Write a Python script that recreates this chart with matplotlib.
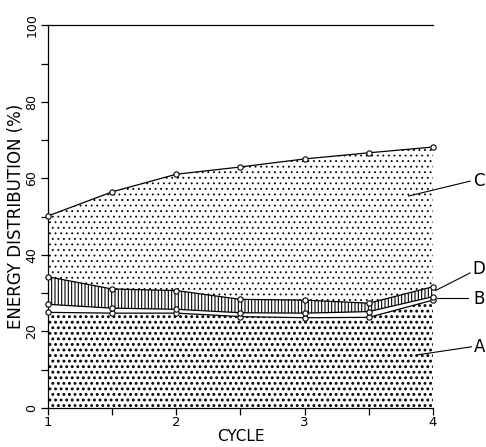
import matplotlib
matplotlib.use('Agg')
import matplotlib.pyplot as plt
import numpy as np

# cumulative tops of each layer (%)
cycle = [1, 1.5, 2, 2.5, 3, 3.5, 4]
top_a = [25.0, 24.8, 24.8, 23.9, 23.6, 23.7, 28.2]
top_b = [27.1, 26.1, 25.8, 24.9, 24.8, 25.2, 29.1]
top_d = [34.3, 31.1, 30.7, 28.4, 28.2, 27.4, 31.7]
top_c = [50.2, 56.5, 61.1, 63.0, 65.1, 66.7, 68.2]

labels = ['C', 'D', 'B', 'A']
label_line_start = [(3.81, 55.4), (4.02, 30.7), (4.03, 28.8), (3.88, 13.9)]
label_line_end = [(4.29, 59.3), (4.29, 35.3), (4.27, 28.8), (4.30, 16.0)]
label_pos = [(4.36, 59.3), (4.36, 36.4), (4.36, 28.4), (4.36, 16.0)]

fig = plt.figure(figsize=(4.86, 4.47), dpi=100)
ax = fig.add_axes([0.0988, 0.0872, 0.792, 0.856])

def layer(lo, hi, hatch, hlw):
    coll = ax.fill_between(cycle, lo, hi, facecolor='white', edgecolor='black',
                           linewidth=0, hatch=hatch, zorder=1)
    if hasattr(coll, 'set_hatch_linewidth'):
        coll.set_hatch_linewidth(hlw)
    return coll

plt.rcParams['hatch.linewidth'] = 1.3
layer(0, top_a, '...', 1.3)
plt.rcParams['hatch.linewidth'] = 0.8
layer(top_b, top_d, '|||||', 0.8)
plt.rcParams['hatch.linewidth'] = 0.6
layer(top_d, top_c, '...', 0.6)

for ys in (top_a, top_b, top_d, top_c):
    ax.plot(cycle, ys, color='black', linewidth=0.9, marker='o', markersize=3.8,
            markerfacecolor='white', markeredgewidth=0.8, zorder=3, clip_on=False)

for lab, p0, p1, pt in zip(labels, label_line_start, label_line_end, label_pos):
    ax.plot([p0[0], p1[0]], [p0[1], p1[1]], color='black', linewidth=0.8,
            clip_on=False, zorder=4)
    ax.text(pt[0], pt[1], lab, fontsize=12, ha='center', va='center')

ax.set_xlim(1, 4)
ax.set_ylim(0, 100)
ax.set_xticks([1, 2, 3, 4])
ax.set_xticks([1.5, 2.5, 3.5], minor=True)
ax.set_yticks([0, 20, 40, 60, 80, 100])
ax.set_yticks([10, 30, 50, 70, 90], minor=True)
ax.tick_params(axis='both', which='both', direction='out', length=5, width=0.9)
ax.tick_params(axis='x', labelsize=9.5, pad=1)
ax.tick_params(axis='y', labelsize=9, labelrotation=90, pad=2)
for t in ax.get_yticklabels():
    t.set_va('center')

ax.spines['right'].set_visible(False)
for s in ('left', 'bottom', 'top'):
    ax.spines[s].set_linewidth(0.9)

ax.set_xlabel('CYCLE', fontsize=11, labelpad=0)
ax.set_ylabel('ENERGY DISTRIBUTION (%)', fontsize=12, labelpad=0)

plt.savefig('out.png', dpi=100)
